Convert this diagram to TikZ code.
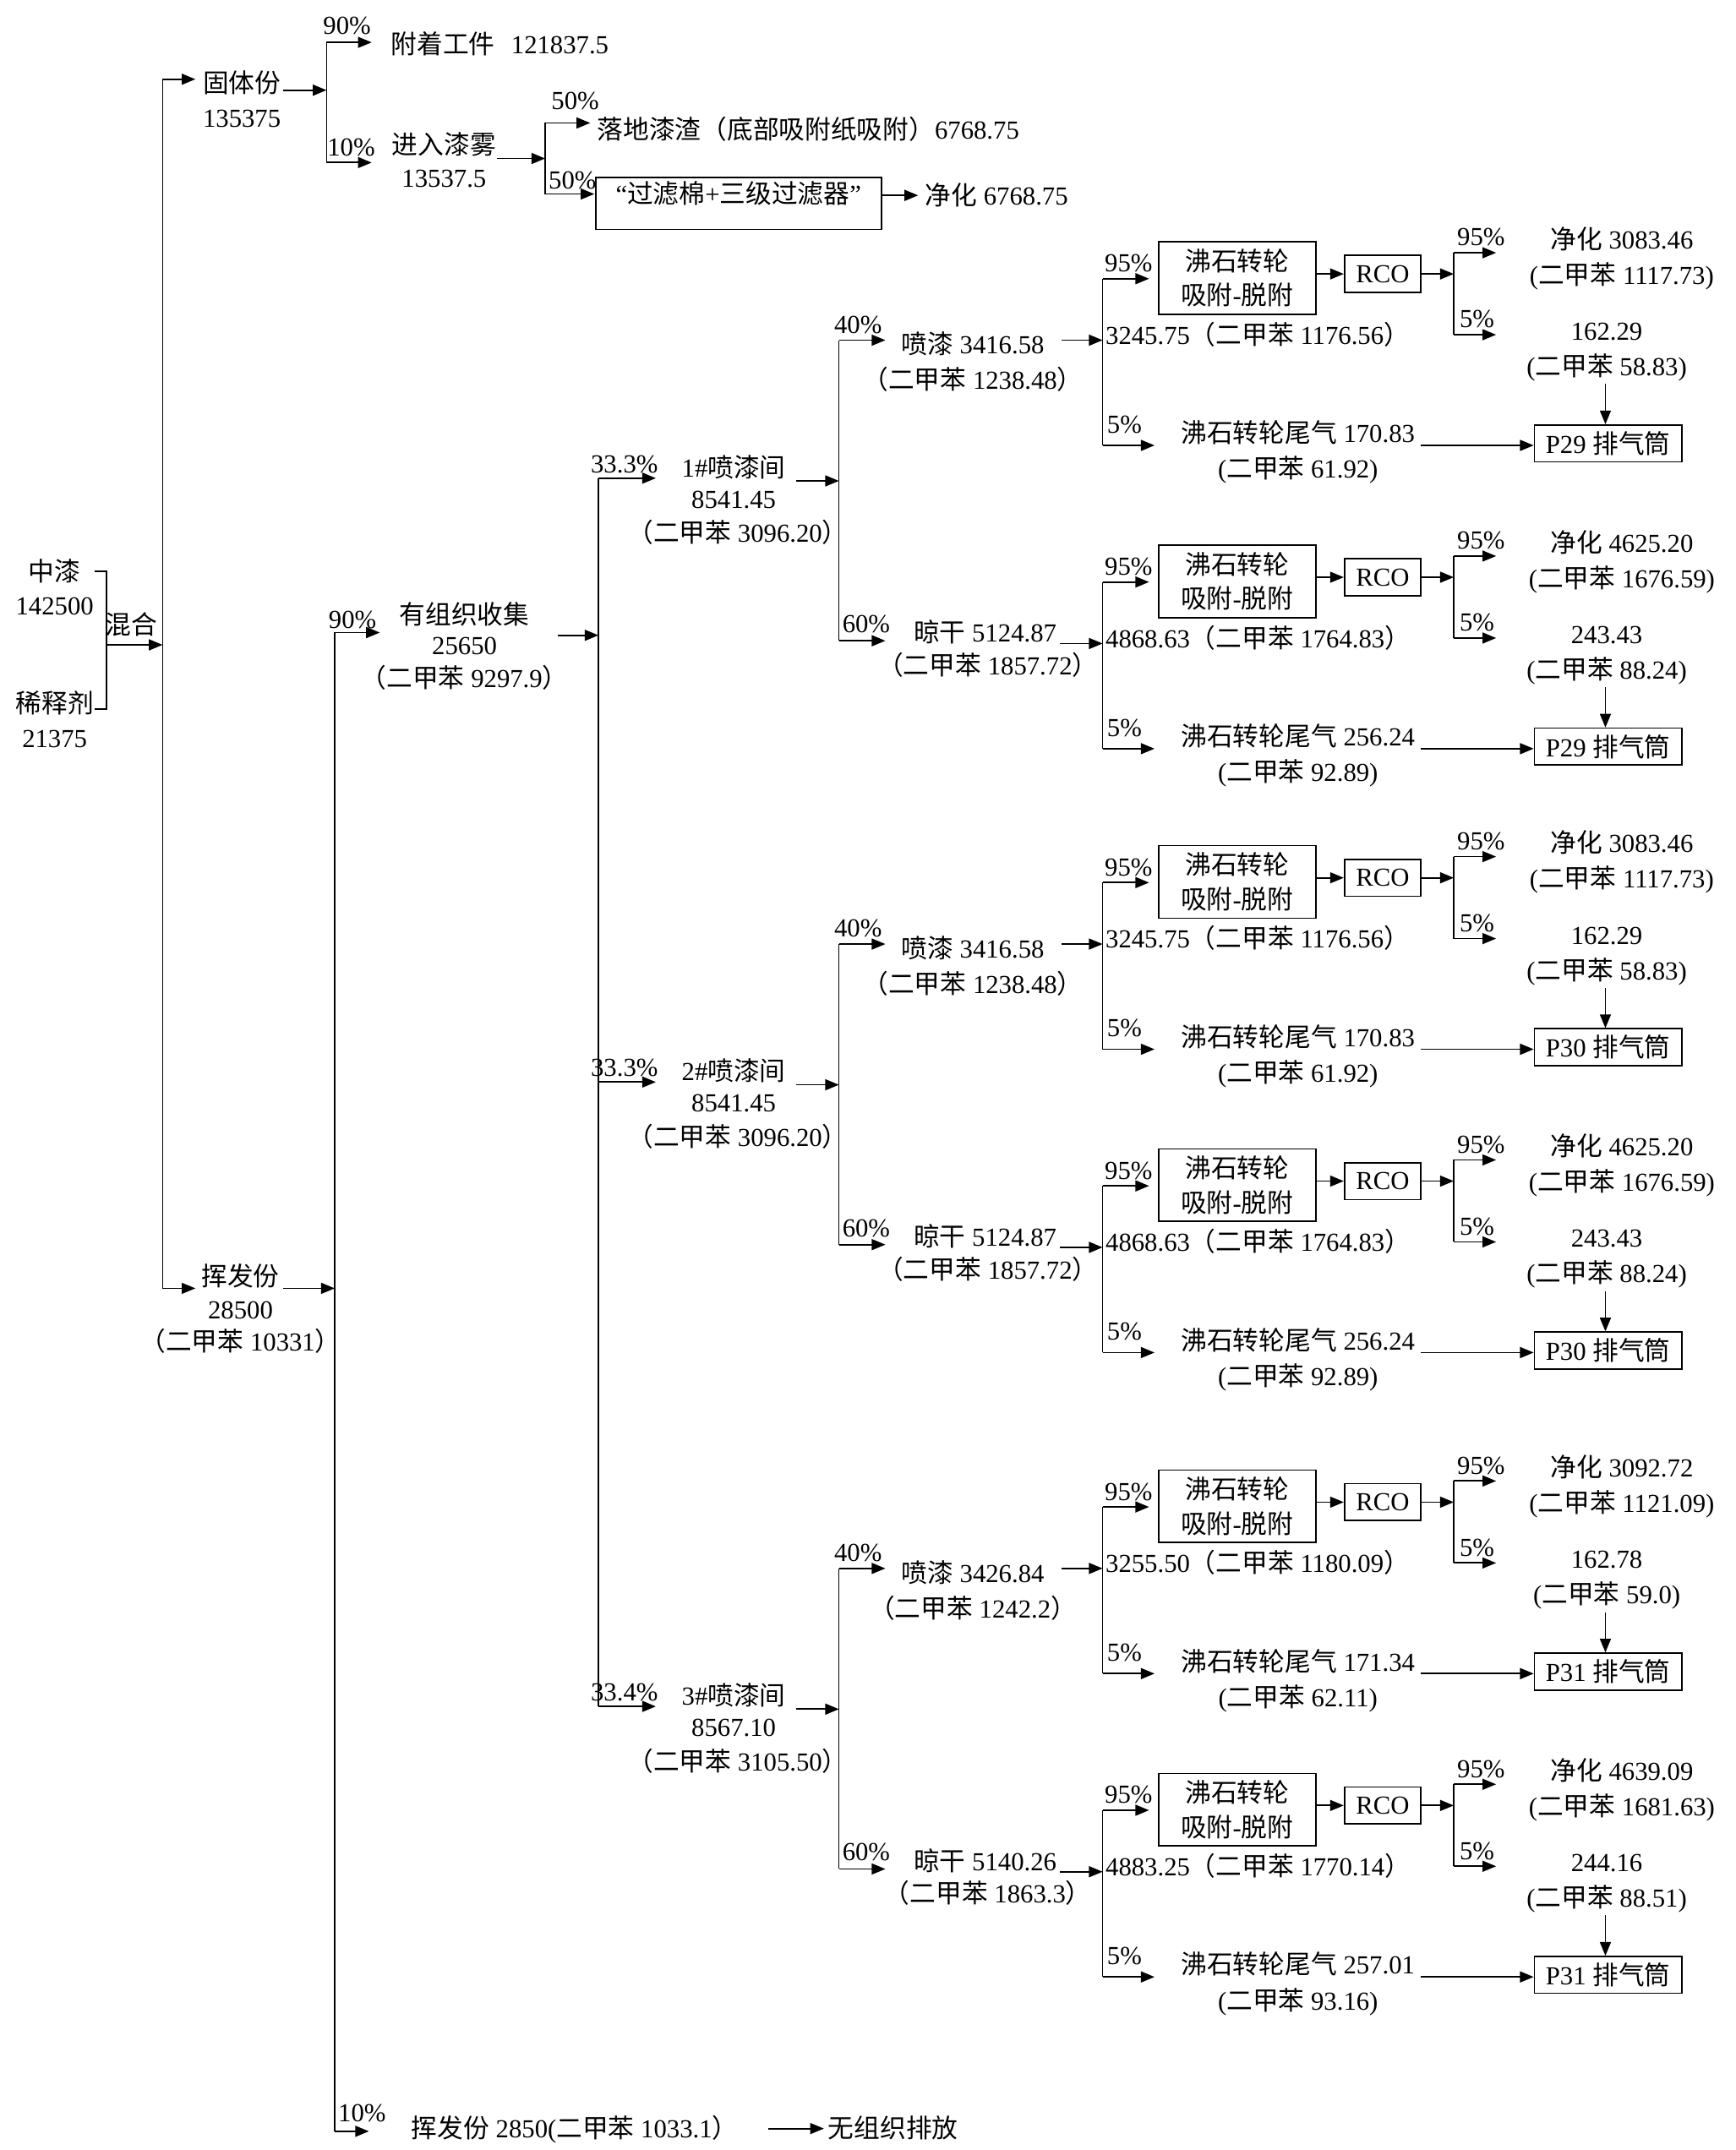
\documentclass[tikz,border=0pt]{standalone}
\usepackage{fontspec}
\setmainfont{Liberation Serif}
\newfontfamily\cjk{Noto Sans CJK SC}
\newcommand\zh[1]{{\cjk #1}}
\usetikzlibrary{arrows.meta}

\tikzset{
  ln/.style={line width=1pt},
  arr/.style={line width=1.1pt,-{Triangle[length=10pt,width=8pt]}},
  txt/.style={anchor=base,inner sep=0pt,yshift=-7pt},
  box/.style={draw,line width=1pt,align=center,inner sep=0pt},
}

% one adsorption sub-branch: #1 prefix, #2 base y, #3 adsorbed text,
% #4/#5 purified lines, #6/#7 residual lines, #8/#9 tail-gas lines
\newcommand\SB[9]{%
\begin{scope}[shift={(0,#2)}]
 \coordinate (#1vt) at (807,-45);
 \coordinate (#1vm) at (807,0);
 \coordinate (#1vb) at (807,77);
 \draw[ln] (#1vt) -- (#1vb);
 \coordinate (#1e95) at (841,-45);
 \draw[arr] (#1vt) -- (#1e95);
 \node[txt] (#1p95) at (826,-57) {95\%};
 \node[box,minimum width=115pt,minimum height=53pt] (#1box) at (905.5,-45.5) {\zh{沸石转轮}\\\zh{吸附}-\zh{脱附}};
 \node[box,minimum width=56pt,minimum height=27pt] (#1rco) at (1012,-48.5) {RCO};
 \draw[arr] (#1box.east |- #1rco.west) -- (#1rco.west);
 \coordinate (#1wt) at (1064,-64);
 \coordinate (#1wm) at (1064,-48.5);
 \coordinate (#1wb) at (1064,-4);
 \draw[arr] (#1rco.east) -- (#1wm);
 \draw[ln] (#1wt) -- (#1wb);
 \coordinate (#1f95) at (1095,-64);
 \coordinate (#1f5) at (1095,-4);
 \draw[arr] (#1wt) -- (#1f95);
 \draw[arr] (#1wb) -- (#1f5);
 \node[txt] (#1q95) at (1084,-76) {95\%};
 \node[txt] (#1q5) at (1081,-16) {5\%};
 \node[txt] (#1ja) at (1187,-74) {\zh{净化} #4};
 \node[txt] (#1jb) at (1187,-48) {(\zh{二甲苯} #5)};
 \node[txt] (#1ra) at (1176,-7) {#6};
 \node[txt] (#1rb) at (1176,19) {(\zh{二甲苯} #7)};
 \node[box,minimum width=108pt,minimum height=27pt] (#1stk) at (1177,75.5) {\sbStack\ \zh{排气筒}};
 \coordinate (#1dt) at (1175,32);
 \draw[arr] (#1dt) -- (#1dt |- #1stk.north);
 \coordinate (#1e5) at (845,77);
 \draw[arr] (#1vb) -- (#1e5);
 \node[txt] (#1p5) at (823,61) {5\%};
 \node[txt] (#1ta) at (950,68) {\zh{沸石转轮尾气} #8};
 \node[txt] (#1tb) at (950,94) {(\zh{二甲苯} #9)};
 \coordinate (#1ts) at (1040,77);
 \draw[arr] (#1ts) -- (#1ts -| #1stk.west);
 \node[txt,anchor=base west] (#1ads) at (809,-4) {#3};
\end{scope}}

% one spray room: #1 prefix, #2 dy, #3 share, #4 room number, #5 room amount,
% #6 room xylene, #7 spraying amount, #8 spraying xylene, #9 drying amount (xylene in \gLb)
\newcommand\GR[9]{%
\begin{scope}[shift={(0,#2)}]
 \coordinate (#1in) at (438,350);
 \coordinate (#1inE) at (480,350);
 \draw[arr] (#1in) -- (#1inE);
 \node[txt] (#1pc) at (457,339) {#3};
 \node[txt] (#1r1) at (537,342) {#4\#\zh{喷漆间}};
 \node[txt] (#1r2) at (537,365) {#5};
 \node[txt] (#1r3) at (540,390) {\zh{（二甲苯} #6\zh{）}};
 \coordinate (#1o) at (583,352);
 \coordinate (#1j) at (614,352);
 \draw[arr] (#1o) -- (#1j);
 \coordinate (#1jt) at (614,249);
 \coordinate (#1jb) at (614,469);
 \draw[ln] (#1jt) -- (#1jb);
 \coordinate (#1pt) at (648,249);
 \coordinate (#1lt) at (648,469);
 \draw[arr] (#1jt) -- (#1pt);
 \draw[arr] (#1jb) -- (#1lt);
 \node[txt] (#1p40) at (628,237) {40\%};
 \node[txt] (#1p60) at (634,456) {60\%};
 \node[txt] (#1pa) at (712,252) {\zh{喷漆} #7};
 \node[txt] (#1pb) at (712,278) {\zh{（二甲苯} #8\zh{）}};
 \node[txt] (#1la) at (721,463) {\zh{晾干} #9};
 \node[txt] (#1lb) at (723,487) {\zh{（二甲苯} \gLb\zh{）}};
 \coordinate (#1po) at (777,249);
 \coordinate (#1lo) at (776,471);
 \draw[arr] (#1po) -- (#1Pvm);
 \draw[arr] (#1lo) -- (#1Lvm);
\end{scope}}

\begin{document}
\begin{tikzpicture}[x=1pt,y=-1pt,every node/.append style={font=\fontsize{19}{25}\selectfont}]
\fill[white] (0,0) rectangle (1270,1573.7);
\useasboundingbox (0,0) rectangle (1270,1573.7);

% ---- inputs and mixing
\node[txt] (zq1) at (40,418) {\zh{中漆}};
\node[txt] (zq2) at (40,443) {142500};
\node[txt] (xs1) at (40,515) {\zh{稀释剂}};
\node[txt] (xs2) at (40,540) {21375};
\coordinate (b1) at (69,418);
\coordinate (b2) at (78,418);
\coordinate (b3) at (78,519);
\coordinate (b4) at (69,519);
\draw[ln] (b1) -- (b2) -- (b3) -- (b4);
\node[txt] (hh) at (96,457) {\zh{混合}};
\coordinate (mx) at (78,472);
\coordinate (mv) at (119,472);
\draw[arr] (mx) -- (mv);
\coordinate (mt) at (119,58);
\coordinate (mb) at (119,943);
\draw[ln] (mt) -- (mb);
\coordinate (mte) at (143,58);
\coordinate (mbe) at (143,943);
\draw[arr] (mt) -- (mte);
\draw[arr] (mb) -- (mbe);

% ---- solid part
\node[txt] (gt1) at (177,61) {\zh{固体份}};
\node[txt] (gt2) at (177,86) {135375};
\coordinate (gto) at (207,66);
\coordinate (gtj) at (239,66);
\draw[arr] (gto) -- (gtj);
\coordinate (gtt) at (239,31);
\coordinate (gtb) at (239,119);
\draw[ln] (gtt) -- (gtb);
\coordinate (gtte) at (272,31);
\coordinate (gtbe) at (272,119);
\draw[arr] (gtt) -- (gtte);
\draw[arr] (gtb) -- (gtbe);
\node[txt] (p90a) at (254,18) {90\%};
\node[txt] (p10a) at (257,107) {10\%};
\node[txt,anchor=base west] (fz) at (286,32) {\zh{附着工件}\hspace{12pt}121837.5};
\node[txt] (qw1) at (325,106) {\zh{进入漆雾}};
\node[txt] (qw2) at (325,130) {13537.5};
\coordinate (qwo) at (364,116);
\coordinate (qwj) at (399,116);
\draw[arr] (qwo) -- (qwj);
\coordinate (qwt) at (399,90);
\coordinate (qwb) at (399,142);
\draw[ln] (qwt) -- (qwb);
\coordinate (qwte) at (432,90);
\coordinate (qwbe) at (435,142);
\draw[arr] (qwt) -- (qwte);
\draw[arr] (qwb) -- (qwbe);
\node[txt] (p50a) at (421,73) {50\%};
\node[txt] (p50b) at (419,131) {50\%};
\node[txt,anchor=base west] (ld) at (437,95) {\zh{落地漆渣（底部吸附纸吸附）}6768.75};
\node[draw,line width=1pt,anchor=base,inner xsep=0pt,inner ysep=0pt,text height=19pt,text depth=19pt,minimum width=209pt] (filt) at (540.5,149) {“\zh{过滤棉}+\zh{三级过滤器}”};
\coordinate (fo) at (672,143);
\draw[arr] (filt.east |- fo) -- (fo);
\node[txt,anchor=base west] (jh0) at (677,143) {\zh{净化} 6768.75};

% ---- volatile part
\node[txt] (hf1) at (176,934) {\zh{挥发份}};
\node[txt] (hf2) at (176,958) {28500};
\node[txt] (hf3) at (176,982) {\zh{（二甲苯} 10331\zh{）}};
\coordinate (hfo) at (207,943);
\coordinate (hfj) at (245,943);
\draw[arr] (hfo) -- (hfj);
\coordinate (hft) at (245,463);
\coordinate (hfb) at (245,1560);
\draw[ln] (hft) -- (hfb);
\coordinate (hfte) at (278,463);
\coordinate (hfbe) at (270,1560);
\draw[arr] (hft) -- (hfte);
\draw[arr] (hfb) -- (hfbe);
\node[txt] (p90b) at (258,453) {90\%};
\node[txt] (p10b) at (265,1546) {10\%};
\node[txt] (yz1) at (340,450) {\zh{有组织收集}};
\node[txt] (yz2) at (340,472) {25650};
\node[txt] (yz3) at (340,496) {\zh{（二甲苯} 9297.9\zh{）}};
\coordinate (yzo) at (408,465);
\coordinate (yzj) at (438,465);
\draw[arr] (yzo) -- (yzj);
\coordinate (rt) at (438,350);
\coordinate (rb) at (438,1249);
\draw[ln] (rt) -- (rb);
\node[txt,anchor=base west] (wz) at (301,1558) {\zh{挥发份} 2850(\zh{二甲苯} 1033.1\zh{）}};
\coordinate (wzo) at (562,1558);
\coordinate (wze) at (603,1558);
\draw[arr] (wzo) -- (wze);
\node[txt,anchor=base west] (wzp) at (606,1558) {\zh{无组织排放}};

% ---- adsorption sub-branches
\def\sbStack{P29}
\SB{g1P}{249}{3245.75\zh{（二甲苯} 1176.56\zh{）}}{3083.46}{1117.73}{162.29}{58.83}{170.83}{61.92}
\SB{g1L}{471}{4868.63\zh{（二甲苯} 1764.83\zh{）}}{4625.20}{1676.59}{243.43}{88.24}{256.24}{92.89}
\def\sbStack{P30}
\SB{g2P}{691}{3245.75\zh{（二甲苯} 1176.56\zh{）}}{3083.46}{1117.73}{162.29}{58.83}{170.83}{61.92}
\SB{g2L}{913}{4868.63\zh{（二甲苯} 1764.83\zh{）}}{4625.20}{1676.59}{243.43}{88.24}{256.24}{92.89}
\def\sbStack{P31}
\SB{g3P}{1148}{3255.50\zh{（二甲苯} 1180.09\zh{）}}{3092.72}{1121.09}{162.78}{59.0}{171.34}{62.11}
\SB{g3L}{1370}{4883.25\zh{（二甲苯} 1770.14\zh{）}}{4639.09}{1681.63}{244.16}{88.51}{257.01}{93.16}

% ---- spray rooms
\def\gLb{1857.72}
\GR{g1}{0}{33.3\%}{1}{8541.45}{3096.20}{3416.58}{1238.48}{5124.87}
\GR{g2}{442}{33.3\%}{2}{8541.45}{3096.20}{3416.58}{1238.48}{5124.87}
\def\gLb{1863.3}
\GR{g3}{899}{33.4\%}{3}{8567.10}{3105.50}{3426.84}{1242.2}{5140.26}
\end{tikzpicture}
\end{document}
